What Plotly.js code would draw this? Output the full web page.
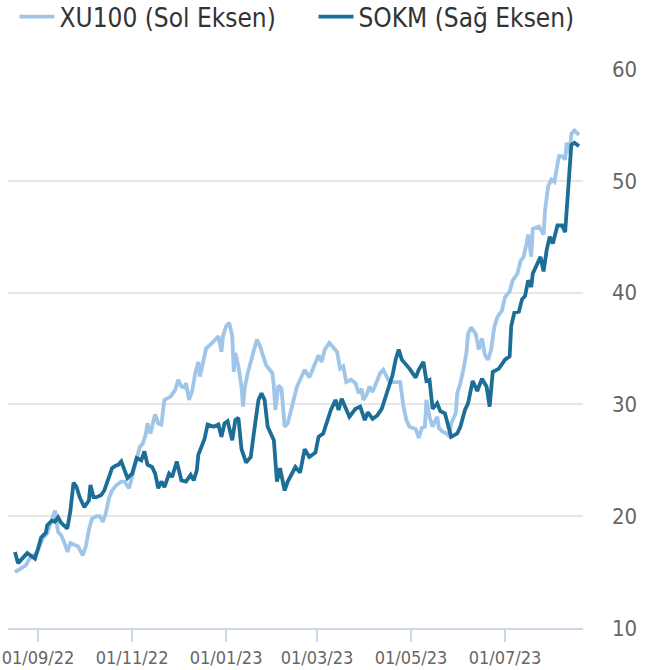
<!DOCTYPE html>
<html>
<head>
<meta charset="utf-8">
<script src="https://cdn.plot.ly/plotly-3.0.1.min.js"></script>
<style>html,body{margin:0;padding:0;background:#fff;}#chart{width:653px;height:670px;}</style>
</head>
<body>
<div id="chart"></div>
<script>
// XU100 (left, hidden axis) - values read in visual units of the chart
const xuDates = ["2022-08-17","2022-08-20","2022-08-24","2022-08-26","2022-08-28","2022-08-31","2022-09-02","2022-09-04","2022-09-07","2022-09-09","2022-09-11","2022-09-12","2022-09-14","2022-09-16","2022-09-19","2022-09-20","2022-09-22","2022-09-25","2022-09-27","2022-09-30","2022-10-02","2022-10-04","2022-10-06","2022-10-09","2022-10-11","2022-10-13","2022-10-15","2022-10-17","2022-10-19","2022-10-22","2022-10-25","2022-10-27","2022-10-30","2022-11-01","2022-11-04","2022-11-06","2022-11-08","2022-11-10","2022-11-11","2022-11-13","2022-11-15","2022-11-16","2022-11-18","2022-11-20","2022-11-22","2022-11-26","2022-11-29","2022-12-01","2022-12-03","2022-12-05","2022-12-06","2022-12-08","2022-12-10","2022-12-12","2022-12-14","2022-12-15","2022-12-17","2022-12-19","2022-12-23","2022-12-25","2022-12-27","2022-12-29","2022-12-30","2023-01-01","2023-01-03","2023-01-05","2023-01-06","2023-01-07","2023-01-09","2023-01-11","2023-01-12","2023-01-13","2023-01-15","2023-01-18","2023-01-21","2023-01-23","2023-01-25","2023-01-27","2023-01-31","2023-02-01","2023-02-02","2023-02-04","2023-02-06","2023-02-08","2023-02-10","2023-02-13","2023-02-16","2023-02-19","2023-02-21","2023-02-24","2023-02-28","2023-03-02","2023-03-04","2023-03-06","2023-03-09","2023-03-12","2023-03-14","2023-03-16","2023-03-18","2023-03-20","2023-03-23","2023-03-26","2023-03-28","2023-03-30","2023-03-31","2023-04-02","2023-04-04","2023-04-06","2023-04-09","2023-04-11","2023-04-13","2023-04-15","2023-04-17","2023-04-21","2023-04-24","2023-04-26","2023-04-28","2023-04-30","2023-05-04","2023-05-06","2023-05-08","2023-05-10","2023-05-11","2023-05-13","2023-05-15","2023-05-18","2023-05-19","2023-05-21","2023-05-24","2023-05-26","2023-05-27","2023-05-30","2023-05-31","2023-06-02","2023-06-04","2023-06-06","2023-06-07","2023-06-09","2023-06-12","2023-06-14","2023-06-16","2023-06-18","2023-06-20","2023-06-22","2023-06-24","2023-06-26","2023-06-29","2023-07-01","2023-07-04","2023-07-06","2023-07-09","2023-07-11","2023-07-13","2023-07-15","2023-07-16","2023-07-18","2023-07-19","2023-07-23","2023-07-26","2023-07-27","2023-07-29","2023-07-31","2023-08-02","2023-08-05","2023-08-07","2023-08-09","2023-08-10","2023-08-12","2023-08-13","2023-08-15","2023-08-18"];
const xuValues = [15.0,15.3,15.6,16.1,16.4,16.7,17.3,18.0,18.5,19.4,20.3,20.5,18.6,18.3,17.3,16.8,17.6,17.4,17.3,16.5,17.3,18.8,19.8,20.0,20.0,19.5,20.3,21.6,22.3,22.8,23.1,23.1,22.5,23.5,25.3,26.2,26.5,27.4,28.3,27.4,28.6,29.1,28.3,28.2,30.4,30.7,31.3,32.2,31.6,31.5,31.9,30.4,31.2,32.8,33.8,32.5,33.7,35.0,35.5,35.8,36.1,34.7,36.1,37.0,37.3,36.1,32.9,34.6,33.4,31.6,29.8,31.4,32.8,34.3,35.8,35.2,34.4,33.5,32.8,31.6,29.5,31.7,31.4,28.0,28.3,29.8,31.6,32.5,33.1,32.4,33.7,34.4,33.8,34.9,35.5,35.0,34.7,33.2,33.4,32.0,32.2,31.9,31.0,31.4,30.4,30.8,31.6,31.1,32.0,32.8,33.1,32.6,32.0,32.0,32.0,29.9,28.6,28.0,27.8,27.0,27.9,28.0,30.4,28.9,28.0,28.9,27.9,27.6,27.4,27.1,28.3,29.2,31.0,31.9,33.1,34.7,36.3,36.9,36.3,34.9,35.9,34.4,34.0,34.9,36.9,37.8,38.4,39.6,40.1,41.1,41.7,42.8,43.2,44.4,45.2,43.2,45.7,45.9,45.2,47.4,49.5,50.1,49.9,52.2,52.2,51.9,53.4,52.5,54.2,54.5,54.1];

// SOKM (right axis)
const sokmDates = ["2022-08-17","2022-08-19","2022-08-25","2022-08-28","2022-08-30","2022-09-01","2022-09-03","2022-09-06","2022-09-07","2022-09-10","2022-09-12","2022-09-14","2022-09-16","2022-09-20","2022-09-22","2022-09-24","2022-09-26","2022-09-28","2022-10-01","2022-10-04","2022-10-05","2022-10-07","2022-10-09","2022-10-12","2022-10-14","2022-10-17","2022-10-19","2022-10-21","2022-10-23","2022-10-25","2022-10-29","2022-11-01","2022-11-04","2022-11-07","2022-11-09","2022-11-11","2022-11-14","2022-11-16","2022-11-18","2022-11-20","2022-11-22","2022-11-25","2022-11-27","2022-11-30","2022-12-03","2022-12-06","2022-12-09","2022-12-11","2022-12-13","2022-12-14","2022-12-16","2022-12-18","2022-12-20","2022-12-24","2022-12-27","2022-12-29","2022-12-31","2023-01-02","2023-01-05","2023-01-07","2023-01-09","2023-01-11","2023-01-14","2023-01-17","2023-01-19","2023-01-22","2023-01-24","2023-01-26","2023-01-28","2023-02-01","2023-02-03","2023-02-05","2023-02-08","2023-02-10","2023-02-15","2023-02-18","2023-02-21","2023-02-24","2023-02-28","2023-03-02","2023-03-05","2023-03-08","2023-03-10","2023-03-13","2023-03-15","2023-03-17","2023-03-19","2023-03-22","2023-03-26","2023-03-29","2023-04-01","2023-04-03","2023-04-06","2023-04-09","2023-04-12","2023-04-14","2023-04-16","2023-04-19","2023-04-21","2023-04-23","2023-04-25","2023-04-27","2023-04-30","2023-05-04","2023-05-06","2023-05-09","2023-05-11","2023-05-13","2023-05-15","2023-05-18","2023-05-20","2023-05-23","2023-05-25","2023-05-27","2023-05-31","2023-06-02","2023-06-05","2023-06-07","2023-06-10","2023-06-13","2023-06-16","2023-06-19","2023-06-21","2023-06-23","2023-06-27","2023-07-01","2023-07-04","2023-07-05","2023-07-07","2023-07-10","2023-07-12","2023-07-14","2023-07-16","2023-07-18","2023-07-19","2023-07-22","2023-07-24","2023-07-26","2023-07-28","2023-07-30","2023-08-01","2023-08-04","2023-08-07","2023-08-09","2023-08-10","2023-08-12","2023-08-13","2023-08-15","2023-08-18"];
const sokmValues = [16.8,15.8,16.7,16.4,16.2,17.1,18.1,18.5,19.2,19.6,19.5,19.9,19.4,18.9,20.5,23.0,22.6,21.7,20.8,21.4,22.8,21.7,21.7,21.9,22.3,23.5,24.3,24.5,24.6,24.9,23.4,23.8,25.2,25.0,25.8,24.6,24.4,23.8,22.5,23.1,22.6,23.8,23.5,24.9,23.2,23.1,23.7,23.2,24.1,25.5,26.2,26.9,28.2,28.0,28.2,27.1,28.3,28.5,26.8,28.6,28.8,26.0,24.8,25.3,27.4,30.4,31.0,30.4,28.0,26.8,23.1,24.3,22.3,23.1,24.4,23.9,26.0,25.3,25.7,27.1,27.4,28.6,29.5,30.4,29.5,30.5,29.8,28.9,29.6,29.8,28.6,29.3,28.7,29.0,29.6,30.5,31.3,32.6,34.0,34.9,34.0,33.7,33.2,32.4,33.1,33.8,32.1,32.2,29.6,30.1,29.4,29.2,28.0,27.1,27.4,28.0,29.5,30.1,32.1,31.2,32.3,31.6,29.8,32.9,33.2,34.0,34.3,37.0,38.2,38.3,39.4,39.7,41.1,40.5,41.7,42.5,43.2,41.9,43.8,45.0,44.4,46.0,46.0,45.4,47.4,51.0,53.2,53.4,53.1];

const seriesNames = ["XU100 (Sol Eksen)", "SOKM (Sağ Eksen)"];
const tickDates = ["2022-09-01","2022-11-01","2023-01-01","2023-03-01","2023-05-01","2023-07-01"];
const yTicks = [10,20,30,40,50,60];

const FONT = "DejaVu Sans Condensed, DejaVu Sans, sans-serif";

const traces = [
  {x: xuDates, y: xuValues, name: seriesNames[0], type: "scatter", mode: "lines",
   line: {color: "#9fc5e8", width: 3.8}, yaxis: "y", legend: "legend", hoverinfo: "skip"},
  {x: sokmDates, y: sokmValues, name: seriesNames[1], type: "scatter", mode: "lines",
   line: {color: "#1d6e96", width: 3.8}, yaxis: "y2", legend: "legend2", hoverinfo: "skip"}
];

const legendBase = {orientation: "h", xref: "container", yref: "container",
  xanchor: "left", y: 0.975, yanchor: "middle", itemwidth: 35,
  font: {family: FONT, size: 26, color: "#333333"}, bgcolor: "rgba(0,0,0,0)"};

const layout = {
  width: 653, height: 670,
  margin: {l: 8, r: 70, t: 69, b: 42},
  paper_bgcolor: "#ffffff", plot_bgcolor: "#ffffff",
  font: {family: FONT, color: "#333333"},
  showlegend: true,
  legend: Object.assign({}, legendBase, {x: 0.0222}),
  legend2: Object.assign({}, legendBase, {x: 0.4801}),
  xaxis: {type: "date", range: ["2022-08-12 12:00", "2023-08-20 14:00"],
          tickvals: tickDates, tickformat: "%d/%m/%y",
          ticks: "outside", ticklen: 12, tickwidth: 2, tickcolor: "#ccd6eb",
          showline: true, linecolor: "#ccd6eb", linewidth: 2,
          showgrid: false, zeroline: false,
          tickfont: {family: FONT, size: 18, color: "#666666"}, fixedrange: true},
  yaxis: {range: [10, 60], tickvals: yTicks, showgrid: true, gridcolor: "#e6e6e6", gridwidth: 2,
          showticklabels: false, ticks: "", zeroline: false, showline: false, fixedrange: true},
  yaxis2: {range: [10, 60], tickvals: yTicks, overlaying: "y", side: "right",
           showgrid: false, zeroline: false, showline: false, ticks: "",
           ticklabelstandoff: 28,
           tickfont: {family: FONT, size: 22, color: "#666666"}, fixedrange: true}
};

Plotly.newPlot("chart", traces, layout, {displayModeBar: false, staticPlot: true});
</script>
</body>
</html>
